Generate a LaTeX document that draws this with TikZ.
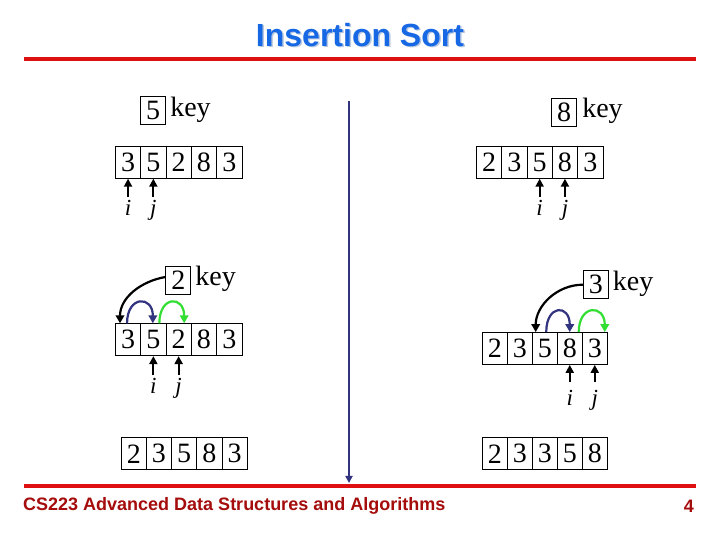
\documentclass[tikz,border=0pt]{standalone}
\usepackage{fontspec}
\setmainfont{Liberation Serif}
\newfontfamily\arialf{Liberation Sans}
\usetikzlibrary{arrows.meta,calc}
\definecolor{titleblue}{RGB}{22,104,228}
\definecolor{titleshadow}{RGB}{185,200,225}
\definecolor{linered}{RGB}{222,16,16}
\definecolor{footred}{RGB}{165,12,12}
\definecolor{navy}{RGB}{50,52,128}
\definecolor{brightgreen}{RGB}{50,222,50}
\begin{document}
\begin{tikzpicture}[x=1pt,y=1pt,
  cell/.style={draw, line width=0.8pt, minimum width=25.3pt, minimum height=32pt, inner sep=0pt, font=\fontsize{28}{28}\selectfont, anchor=west},
  keybox/.style={draw, line width=0.8pt, minimum width=25pt, minimum height=28pt, inner sep=0pt, font=\fontsize{28}{28}\selectfont},
  keylbl/.style={font=\fontsize{28}{28}\selectfont, anchor=base west, inner sep=0pt},
  ptr/.style={line width=2.2pt, -{Triangle[width=8pt,length=8pt]}},
  idx/.style={font=\fontsize{23}{23}\selectfont\itshape, inner sep=0pt, anchor=north},
  curv/.style={line width=2.2pt, -{Triangle[width=8.5pt,length=8pt]}},
  arcb/.style={curv, navy},
  arcg/.style={curv, brightgreen},
  redline/.style={line width=4pt, linered}
]
\useasboundingbox[fill=white] (0,0) rectangle (720,540);

% title and rules
\node[font=\arialf\bfseries\fontsize{32}{32}\selectfont, text=titleshadow] (tshadow) at (361.5,503.5) {Insertion Sort};
\node[font=\arialf\bfseries\fontsize{32}{32}\selectfont, text=titleblue] (title) at (360,505) {Insertion Sort};
\coordinate (rt1) at (24,480.5);
\coordinate (rt2) at (696,480.5);
\draw[redline] (rt1) -- (rt2);
\coordinate (rb1) at (24,54);
\coordinate (rb2) at (696,54);
\draw[redline] (rb1) -- (rb2);
\node[font=\arialf\bfseries\fontsize{18}{18}\selectfont, text=footred, anchor=west, inner sep=0pt] (foot) at (23,34) {CS223 Advanced Data Structures and Algorithms};
\node[font=\arialf\bfseries\fontsize{18}{18}\selectfont, text=footred, anchor=east, inner sep=0pt] (pnum) at (694,34) {4};

% separator arrow
\coordinate (vtop) at (349,438.5);
\coordinate (vbot) at (349,57);
\draw[navy, line width=2pt, -{Triangle[width=7pt,length=7pt]}] (vtop) -- (vbot);

% ---- top left ----
\node[keybox] (K1) at (153.2,429.5) {5};
\node[keylbl] (L1) at ($(K1.east)+(4,-6)$) {key};
\foreach \v [count=\k] in {3,5,2,8,3}
  \node[cell] (A\k) at ({115+25.3*(\k-1)},377.7) {\v};
\coordinate (At1) at ($(A1.south)+(0,-18)$);
\coordinate (At2) at ($(A2.south)+(0,-18)$);
\node[idx] (Ai) at ($(At1)+(0,-3)$) {i};
\node[idx] (Aj) at ($(At2)+(0,-3)$) {j};
\draw[ptr] (At1) -- (A1.south);
\draw[ptr] (At2) -- (A2.south);

% ---- top right ----
\node[keybox] (K2) at (564.2,428) {8};
\node[keylbl] (L2) at ($(K2.east)+(5,-6)$) {key};
\foreach \v [count=\k] in {2,3,5,8,3}
  \node[cell] (B\k) at ({476+25.3*(\k-1)},377.7) {\v};
\coordinate (Bt3) at ($(B3.south)+(0,-18)$);
\coordinate (Bt4) at ($(B4.south)+(0,-18)$);
\node[idx] (Bi) at ($(Bt3)+(0,-3)$) {i};
\node[idx] (Bj) at ($(Bt4)+(0,-3)$) {j};
\draw[ptr] (Bt3) -- (B3.south);
\draw[ptr] (Bt4) -- (B4.south);

% ---- middle left ----
\node[keybox] (K3) at (178.3,260) {2};
\node[keylbl] (L3) at ($(K3.east)+(4,-6)$) {key};
\foreach \v [count=\k] in {3,5,2,8,3}
  \node[cell] (C\k) at ({115+25.3*(\k-1)},200.3) {\v};
\coordinate (Ct2) at ($(C2.south)+(0,-19)$);
\coordinate (Ct3) at ($(C3.south)+(0,-19)$);
\node[idx] (Ci) at ($(Ct2)+(0,-3)$) {i};
\node[idx] (Cj) at ($(Ct3)+(0,-3)$) {j};
\draw[ptr] (Ct2) -- (C2.south);
\draw[ptr] (Ct3) -- (C3.south);
\coordinate (Cs) at ($(K3.west)+(0,3)$);
\coordinate (Ce) at ($(C1.north west)+(5,0)$);
\draw[curv] (Cs) to[out=190,in=90] (Ce);
\draw[arcb] ($(C1.north)+(-1,0)$) .. controls +(0,28) and +(0,28) .. ($(C2.north)+(-0.5,0)$);
\draw[arcg] ($(C2.north)+(6,0)$) .. controls +(0,28) and +(0,28) .. ($(C3.north)+(5.5,0)$);

% ---- middle right ----
\node[keybox] (K4) at (595.8,255.3) {3};
\node[keylbl] (L4) at ($(K4.east)+(4,-6)$) {key};
\foreach \v [count=\k] in {2,3,5,8,3}
  \node[cell] (D\k) at ({481.7+25*(\k-1)},191.5) {\v};
\coordinate (Dt4) at ($(D4.south)+(0,-17)$);
\coordinate (Dt5) at ($(D5.south)+(0,-17)$);
\node[idx] (Di) at ($(Dt4)+(0,-8)$) {i};
\node[idx] (Dj) at ($(Dt5)+(0,-8)$) {j};
\draw[ptr] (Dt4) -- (D4.south);
\draw[ptr] (Dt5) -- (D5.south);
\coordinate (Ds) at ($(K4.west)+(0,0)$);
\coordinate (De) at ($(D3.north west)+(4,0)$);
\draw[curv] (Ds) to[out=180,in=90] (De);
\draw[arcb] ($(D3.north)+(1.5,0)$) .. controls +(0,28) and +(0,28) .. (D4.north);
\draw[arcg] ($(D4.north)+(9,0)$) .. controls +(0,28) and +(0,28) .. ($(D5.north)+(10,0)$);

% ---- bottom ----
\foreach \v [count=\k] in {2,3,5,8,3}
  \node[cell] (E\k) at ({120.7+25.2*(\k-1)},86.2) {\v};
\foreach \v [count=\k] in {2,3,3,5,8}
  \node[cell] (F\k) at ({481.7+25*(\k-1)},86.2) {\v};
\end{tikzpicture}
\end{document}
